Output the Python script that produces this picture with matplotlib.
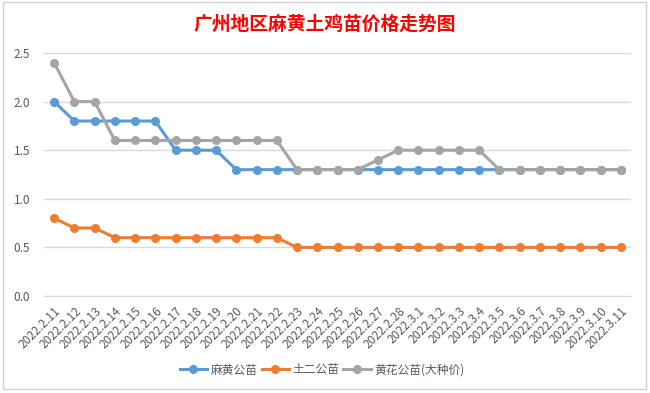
import matplotlib.pyplot as plt
from matplotlib.patches import Rectangle

plt.rcParams['font.family'] = ['Noto Sans CJK SC', 'DejaVu Sans']

# data
dates = ["2022.2.11", "2022.2.12", "2022.2.13", "2022.2.14", "2022.2.15", "2022.2.16",
         "2022.2.17", "2022.2.18", "2022.2.19", "2022.2.20", "2022.2.21", "2022.2.22",
         "2022.2.23", "2022.2.24", "2022.2.25", "2022.2.26", "2022.2.27", "2022.2.28",
         "2022.3.1", "2022.3.2", "2022.3.3", "2022.3.4", "2022.3.5", "2022.3.6",
         "2022.3.7", "2022.3.8", "2022.3.9", "2022.3.10", "2022.3.11"]
mahuang = [2.0, 1.8, 1.8, 1.8, 1.8, 1.8, 1.5, 1.5, 1.5, 1.3, 1.3, 1.3, 1.3, 1.3, 1.3,
           1.3, 1.3, 1.3, 1.3, 1.3, 1.3, 1.3, 1.3, 1.3, 1.3, 1.3, 1.3, 1.3, 1.3]
tuer = [0.8, 0.7, 0.7, 0.6, 0.6, 0.6, 0.6, 0.6, 0.6, 0.6, 0.6, 0.6, 0.5, 0.5, 0.5,
        0.5, 0.5, 0.5, 0.5, 0.5, 0.5, 0.5, 0.5, 0.5, 0.5, 0.5, 0.5, 0.5, 0.5]
huanghua = [2.4, 2.0, 2.0, 1.6, 1.6, 1.6, 1.6, 1.6, 1.6, 1.6, 1.6, 1.6, 1.3, 1.3, 1.3,
            1.3, 1.4, 1.5, 1.5, 1.5, 1.5, 1.5, 1.3, 1.3, 1.3, 1.3, 1.3, 1.3, 1.3]
names = ["麻黄公苗", "土二公苗", "黄花公苗(大种价)"]
colors = ["#5B9BD5", "#ED7D31", "#A5A5A5"]

fig = plt.figure(figsize=(6.5, 3.93), dpi=100)
ax = fig.add_axes([44 / 650, 1 - 296 / 393, 587 / 650, 243 / 393])

x = list(range(len(dates)))
for vals, name, c in zip([mahuang, tuer, huanghua], names, colors):
    ax.plot(x, vals, color=c, lw=2.2, marker='o', ms=5.5, label=name, zorder=3)

ax.set_xlim(-0.5, len(dates) - 0.5)
ax.set_ylim(0, 2.5)
ax.set_yticks([0, 0.5, 1.0, 1.5, 2.0, 2.5])
ax.set_yticklabels(["0.0", "0.5", "1.0", "1.5", "2.0", "2.5"])
ax.set_xticks(x)
ax.set_xticklabels(dates, rotation=45, ha='right', rotation_mode='anchor')
ax.tick_params(axis='both', length=0, labelsize=8.5, labelcolor='#595959')
ax.tick_params(axis='x', pad=6)
ax.tick_params(axis='y', pad=10)
ax.grid(axis='y', color='#D9D9D9', lw=1)
for s in ['top', 'right', 'left']:
    ax.spines[s].set_visible(False)
ax.spines['bottom'].set_color('#D9D9D9')

fig.text(0.5, 1 - 24 / 393, "广州地区麻黄土鸡苗价格走势图", color='red', fontsize=13.5,
         fontweight='bold', ha='center', va='center')

leg = fig.legend(loc='center', bbox_to_anchor=(322 / 650, 1 - 370 / 393), ncol=3,
                 frameon=False, fontsize=8.5, handlelength=2.3, columnspacing=0.35,
                 handletextpad=0.3)
for t in leg.get_texts():
    t.set_color('#595959')

# chart border
fig.patches.append(Rectangle((3 / 650, 4 / 393), 643 / 650, 387 / 393, transform=fig.transFigure,
                             fill=False, edgecolor='#D0D0D8', lw=1))

fig.savefig("out.png", dpi=100)
